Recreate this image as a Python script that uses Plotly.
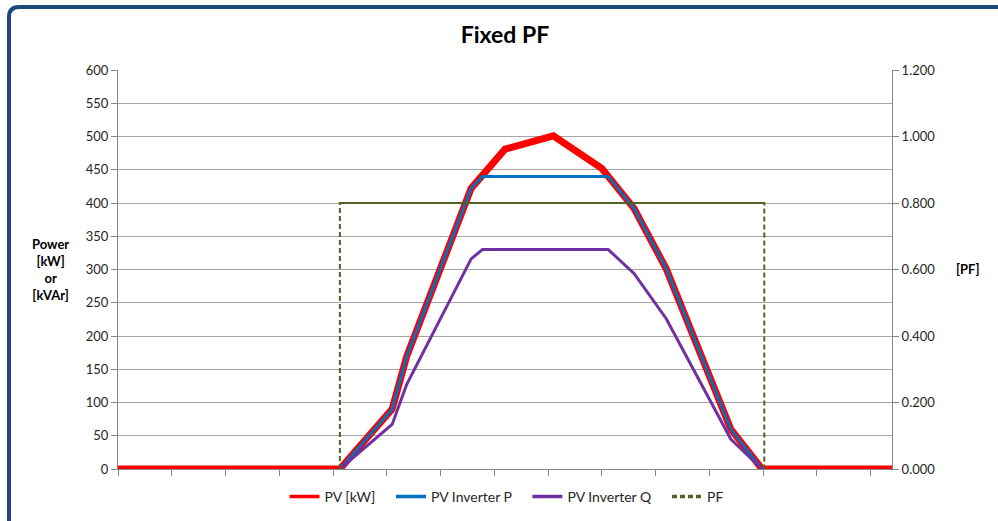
import plotly.graph_objects as go

# ---- data (time of day in hours) ----
hours_pv = [0, 6.88, 8.5, 8.95, 10.95, 12.0, 13.5, 15.0, 16.0, 17.0, 19.0, 19.97, 24]
pv_kw = [0, 0, 90, 169, 422, 481, 501, 452, 392, 301, 60, 0, 0]

hours_inv = [6.88, 8.5, 8.95, 10.95, 11.3, 15.2, 16.0, 17.0, 19.0, 19.97]
inv_p = [0, 90, 169, 422, 440, 440, 392, 301, 60, 0]
inv_q = [0, 67, 127, 316, 330, 330, 294, 226, 45, 0]

hours_pf = [6.88, 6.88, 20.04, 20.04]
pf = [0, 0.8, 0.8, 0]

series_names = ["PV [kW]", "PV Inverter P", "PV Inverter Q", "PF"]
y_left_ticks = list(range(0, 601, 50))
y_right_ticks = [0, 0.2, 0.4, 0.6, 0.8, 1.0, 1.2]

FONT = "Lato"
GRID = "#a6a6a6"
AX = "#868686"
TXT = "#262626"
COLORS = ["#ff0000", "#0070c0", "#7030a0", "#4f6228"]

fig = go.Figure()
fig.add_trace(go.Scatter(x=hours_pv, y=pv_kw, mode="lines", name=series_names[0], showlegend=False,
                         line=dict(color=COLORS[0], width=7)))
fig.add_trace(go.Scatter(x=hours_inv, y=inv_p, mode="lines", name=series_names[1], showlegend=False,
                         line=dict(color=COLORS[1], width=3)))
fig.add_trace(go.Scatter(x=hours_inv, y=inv_q, mode="lines", name=series_names[2], showlegend=False,
                         line=dict(color=COLORS[2], width=3)))
fig.add_trace(go.Scatter(x=hours_pf, y=pf, mode="lines", name=series_names[3], yaxis="y2",
                         showlegend=False,
                         line=dict(color=COLORS[3], width=2, dash="5px,3px")))
top = max(pf)
top_x = [h for h, v in zip(hours_pf, pf) if v == top]
top_y = [v for v in pf if v == top]
fig.add_trace(go.Scatter(x=top_x, y=top_y, mode="lines", yaxis="y2", showlegend=False,
                         hoverinfo="skip", line=dict(color=COLORS[3], width=2)))

# legend entries (thinner sample lines as in the original)
PAD = "\u00a0\u00a0\u00a0"
for i, nm in enumerate(series_names):
    fig.add_trace(go.Scatter(x=[None], y=[None], mode="lines", name=nm + PAD,
                             yaxis="y2" if i == 3 else "y",
                             line=dict(color=COLORS[i], width=3.5,
                                       dash="5px,3px" if i == 3 else "solid")))

fig.update_layout(
    width=998, height=521, autosize=False,
    margin=dict(l=118, r=106, t=70, b=52, autoexpand=False),
    paper_bgcolor="white", plot_bgcolor="white",
    font=dict(family=FONT, size=13, color=TXT),
    title=dict(text="<b>Fixed PF</b>", x=0.5, xref="paper", y=1 - 35 / 521, yref="container",
               xanchor="center", yanchor="middle", font=dict(size=23, color="black", family=FONT)),
    xaxis=dict(range=[0, 24], tick0=0, dtick=5 / 3, showticklabels=False, ticks="outside",
               ticklen=6, tickcolor=AX, showline=True, linecolor=AX, linewidth=1,
               showgrid=False, zeroline=False, fixedrange=True),
    yaxis=dict(range=[0, 600], tickvals=y_left_ticks, ticks="outside", ticklen=6, tickcolor=AX,
               showline=True, linecolor=AX, showgrid=True, gridcolor=GRID, gridwidth=1,
               zeroline=False, tickfont=dict(size=13, color=TXT)),
    yaxis2=dict(range=[0, 1.2], tickvals=y_right_ticks, tickformat=".3f", overlaying="y",
                side="right", ticks="outside", ticklen=6, tickcolor=AX, showline=True,
                linecolor=AX, showgrid=False, zeroline=False, tickfont=dict(size=13, color=TXT)),
    legend=dict(orientation="h", x=(512 - 118) / 774, xanchor="center", y=-0.07, yanchor="middle",
                font=dict(size=14, color=TXT), bgcolor="rgba(0,0,0,0)"),
    showlegend=True,
)

fig.add_annotation(text="<b>Power<br>[kW]<br>or<br>[kVAr]</b>", xref="paper", yref="paper",
                   x=(50 - 118) / 774, y=(469 - 269) / 399, showarrow=False,
                   xanchor="center", yanchor="middle", align="center",
                   font=dict(size=13, color="black", family=FONT))
fig.add_annotation(text="<b>[PF]</b>", xref="paper", yref="paper",
                   x=(968 - 118) / 774, y=(469 - 269) / 399, showarrow=False,
                   xanchor="center", yanchor="middle",
                   font=dict(size=13, color="black", family=FONT))

# rounded outer chart border (right and bottom edges fall outside the picture)
def px(xp):
    return (xp - 118) / 774
def py(yp):
    return (469 - yp) / 399
L, R, T, B, r = 9, 1008, 7, 530, 10
path = (f"M {px(L + r)},{py(T)} L {px(R - r)},{py(T)} Q {px(R)},{py(T)} {px(R)},{py(T + r)} "
        f"L {px(R)},{py(B - r)} Q {px(R)},{py(B)} {px(R - r)},{py(B)} "
        f"L {px(L + r)},{py(B)} Q {px(L)},{py(B)} {px(L)},{py(B - r)} "
        f"L {px(L)},{py(T + r)} Q {px(L)},{py(T)} {px(L + r)},{py(T)} Z")
fig.add_shape(type="path", path=path, xref="paper", yref="paper",
              line=dict(color="#1f497d", width=4), layer="below")

fig.write_html("out.html", config={"displayModeBar": False, "responsive": False},
               default_width="998px", default_height="521px",
               post_script="document.body.style.margin='0px';document.body.style.overflow='hidden';")
